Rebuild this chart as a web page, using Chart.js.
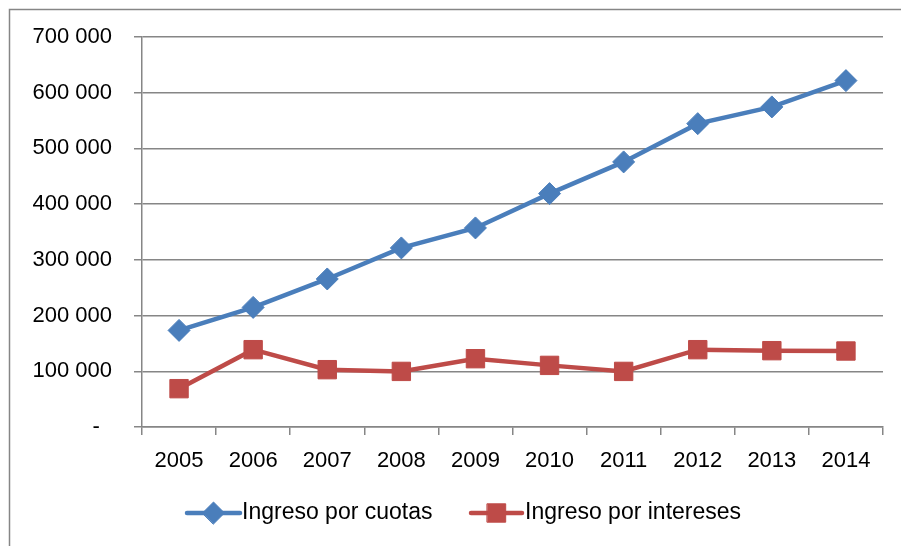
<!DOCTYPE html>
<html><head><meta charset="utf-8">
<script src="https://cdn.jsdelivr.net/npm/chart.js@4"></script>
<style>html,body{margin:0;padding:0;background:#fff}#wrap{width:901px;height:546px;position:relative}</style>
</head><body><div id="wrap"><canvas id="c" width="901" height="546"></canvas></div>
<script>
const years = ['2005','2006','2007','2008','2009','2010','2011','2012','2013','2014'];
const cuotas = [173400, 214700, 265700, 321400, 357300, 418900, 475800, 544500, 574500, 621700];
const intereses = [68800, 138800, 102900, 99800, 122600, 110600, 99800, 138800, 137000, 136400];
const seriesNames = ['Ingreso por cuotas', 'Ingreso por intereses'];

const FONT = '"Liberation Sans", Arial, sans-serif';
const BLUE = '#4A7EBB', RED = '#BE4B48', GRID = '#868686';

function fmt(v){ if(v===0) return '-  '; return String(v).replace(/\B(?=(\d{3})+(?!\d))/g,' '); }

const frame = {
  id:'frame',
  beforeDraw(chart){ const ctx=chart.ctx; ctx.save(); ctx.strokeStyle=GRID; ctx.lineWidth=1.5; ctx.strokeRect(9.5,9.5,1000,1000); ctx.restore(); }
};
const legendPlugin = {
  id:'legendCustom',
  afterDraw(chart){
    const ctx=chart.ctx; const y=513;
    const items=[{x0:187,x1:240,tx:242,ds:0},{x0:471,x1:522,tx:525,ds:1}];
    items.forEach(it=>{
      const ds=chart.data.datasets[it.ds];
      ctx.save();
      ctx.strokeStyle=ds.borderColor; ctx.lineWidth=4.5; ctx.lineCap='round';
      ctx.beginPath(); ctx.moveTo(it.x0,y); ctx.lineTo(it.x1,y); ctx.stroke();
      ctx.fillStyle=ds.pointBackgroundColor; ctx.strokeStyle=ds.pointBorderColor; ctx.lineWidth=1;
      Chart.helpers.drawPoint(ctx,{pointStyle:ds.pointStyle,radius:ds.pointRadius,borderWidth:1},(it.x0+it.x1)/2,y);
      ctx.fillStyle='#000'; ctx.font='23px '+FONT; ctx.textBaseline='middle'; ctx.textAlign='left';
      ctx.fillText(ds.label,it.tx,y);
      ctx.restore();
    });
  }
};

new Chart(document.getElementById('c'),{
  type:'line',
  data:{labels:years,datasets:[
    {label:seriesNames[0],data:cuotas,borderColor:BLUE,backgroundColor:BLUE,pointBackgroundColor:BLUE,pointBorderColor:BLUE,borderWidth:4.5,pointStyle:'rectRot',pointRadius:11,pointBorderWidth:1,tension:0},
    {label:seriesNames[1],data:intereses,borderColor:RED,backgroundColor:RED,pointBackgroundColor:RED,pointBorderColor:RED,borderWidth:4.5,pointStyle:'rect',pointRadius:13,pointBorderWidth:1,tension:0}
  ]},
  options:{
    responsive:false,animation:false,
    layout:{padding:{top:37,right:18,left:0,bottom:0}},
    plugins:{legend:{display:false},tooltip:{enabled:false}},
    scales:{
      x:{offset:true,
        grid:{offset:true,drawOnChartArea:false,drawTicks:true,tickLength:8,color:GRID,lineWidth:1.5},
        border:{display:true,color:GRID,width:1.5},
        ticks:{color:'#000',font:{family:FONT,size:22},padding:13,maxRotation:0},
        afterFit(s){s.height=119;}
      },
      y:{min:0,max:700000,
        grid:{color:GRID,lineWidth:1.5,tickLength:8,drawTicks:true},
        border:{display:true,color:GRID,width:1.5},
        ticks:{stepSize:100000,color:'#000',font:{family:FONT,size:22},padding:22,callback:v=>fmt(v)},
        afterFit(s){s.width=142;}
      }
    }
  },
  plugins:[frame,legendPlugin]
});
</script></body></html>
